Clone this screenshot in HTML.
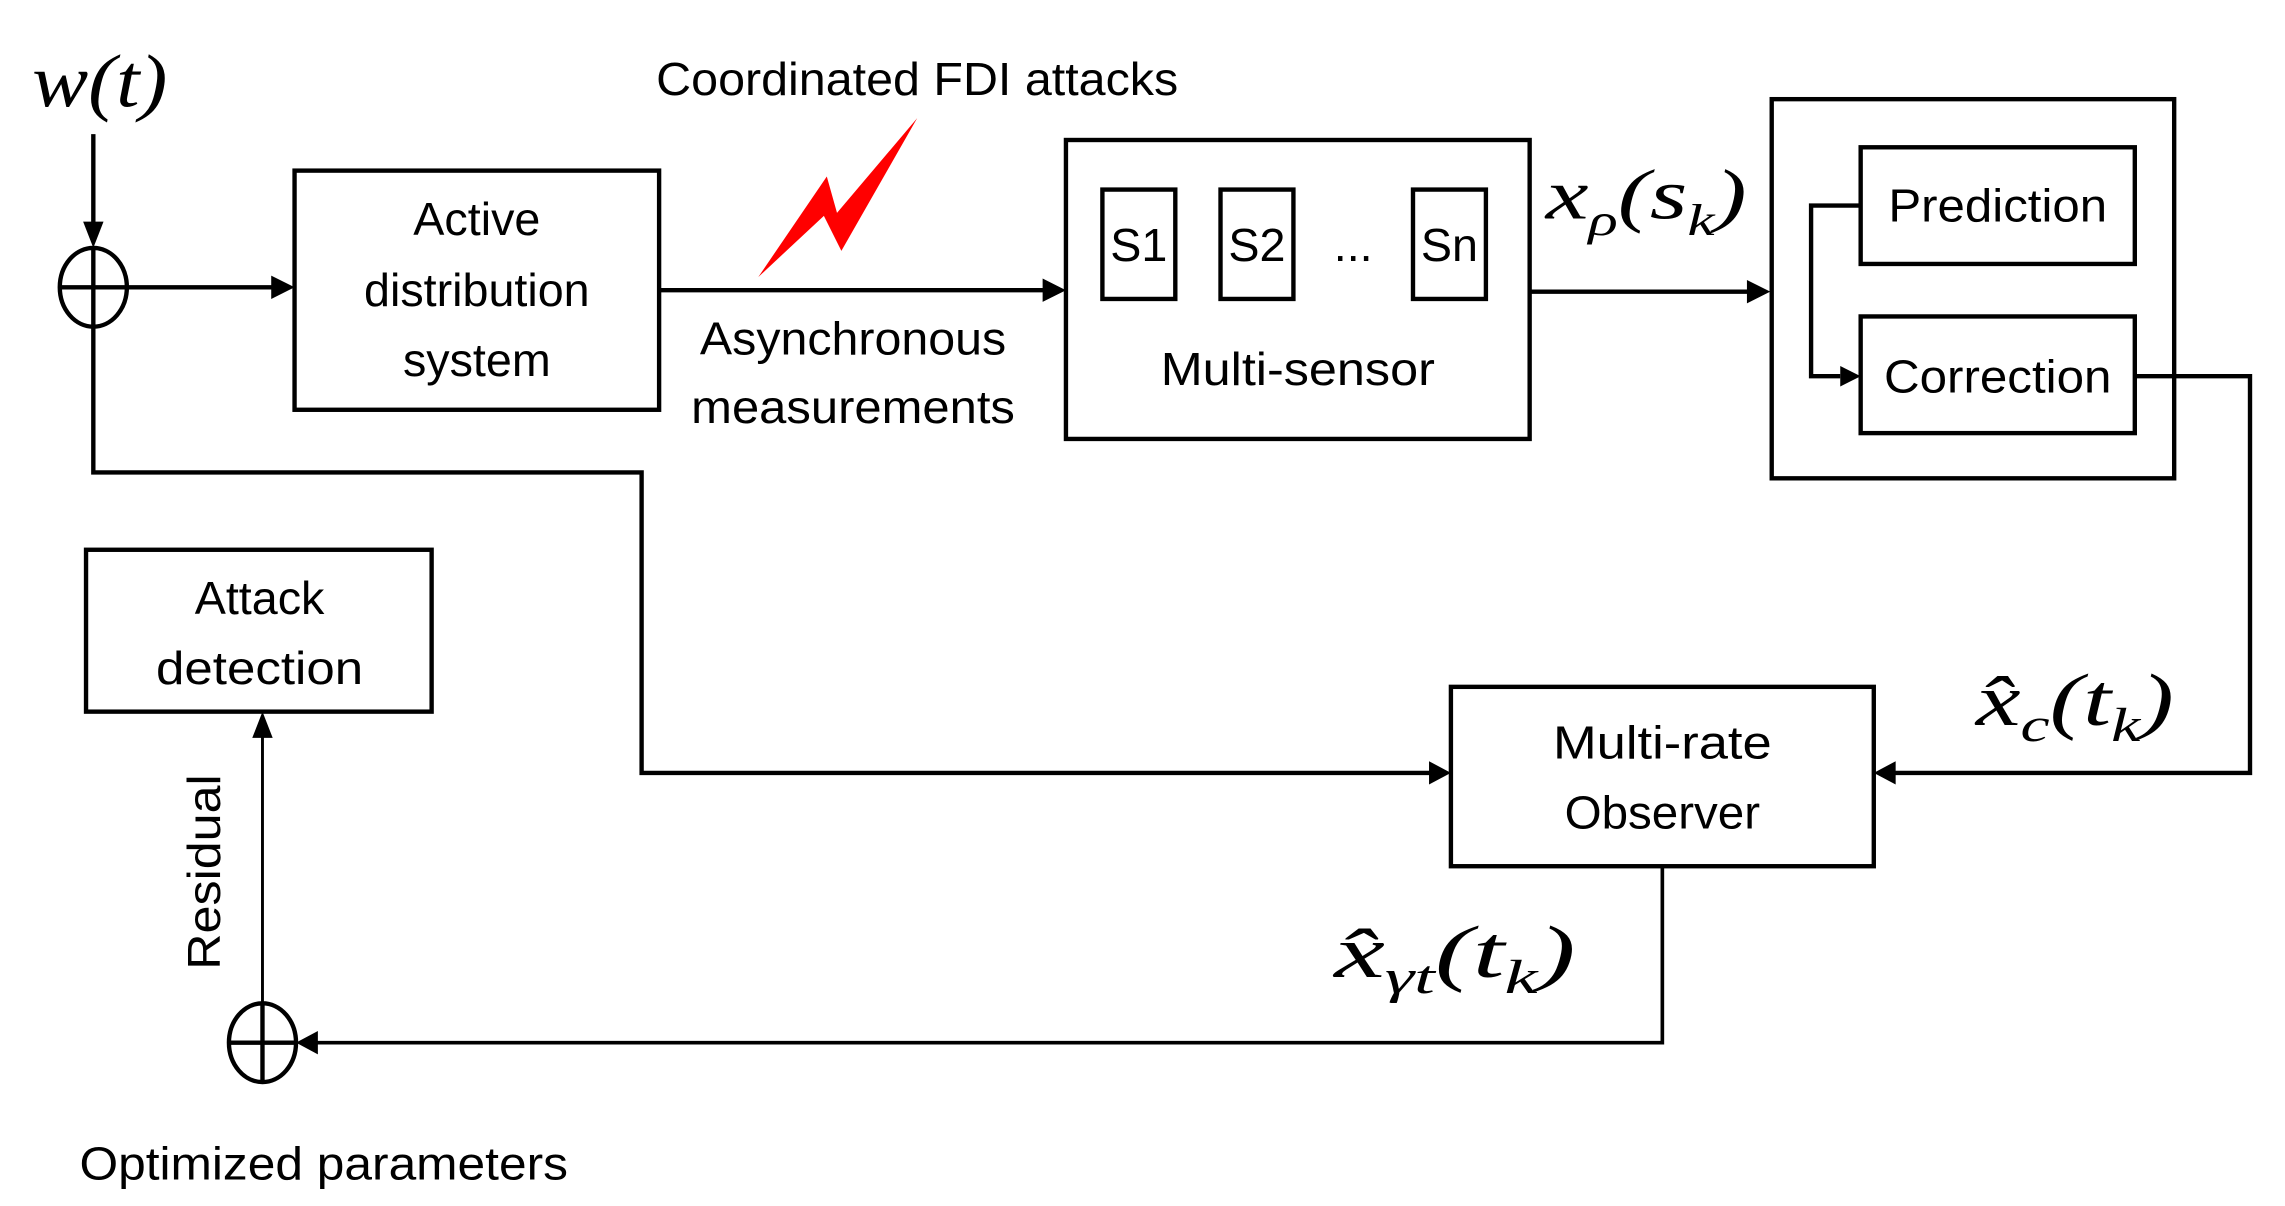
<!DOCTYPE html>
<html><head><meta charset="utf-8"><style>
html,body{margin:0;padding:0;background:#fff;}
svg{display:block;}
text{font-family:"Liberation Sans",sans-serif;fill:#000;}
.m{font-family:"Liberation Serif",serif;font-style:italic;}
.r{font-family:"Liberation Serif",serif;}
</style></head><body>
<svg width="2285" height="1206" viewBox="0 0 1567 827" preserveAspectRatio="none" xmlns="http://www.w3.org/2000/svg">
<g fill="none" stroke="#000" stroke-width="3">
<rect x="202" y="117" width="250" height="164"/>
<rect x="731" y="96" width="318" height="205"/>
<rect x="756" y="130" width="50" height="75"/>
<rect x="837" y="130" width="50" height="75"/>
<rect x="969" y="130" width="50" height="75"/>
<rect x="1215" y="68" width="276" height="260"/>
<rect x="1276" y="101" width="188" height="80"/>
<rect x="1276" y="217" width="188" height="80"/>
<rect x="995" y="471" width="290" height="123"/>
<rect x="59" y="377" width="237" height="111"/>
<ellipse cx="64" cy="197" rx="23" ry="27"/>
<line x1="41" y1="197" x2="87" y2="197"/>
<line x1="64" y1="170" x2="64" y2="224"/>
<ellipse cx="180" cy="715" rx="23" ry="27"/>
<line x1="157" y1="715" x2="203" y2="715"/>
<line x1="180" y1="688" x2="180" y2="742"/>
<line x1="64" y1="92" x2="64" y2="156"/>
<line x1="87" y1="197" x2="188" y2="197"/>
<line x1="452" y1="199" x2="716" y2="199"/>
<line x1="1049" y1="200" x2="1199" y2="200"/>
<polyline points="1276,141 1242,141 1242,258 1262,258"/>
<polyline points="1464,258 1543,258 1543,530 1299,530"/>
<polyline points="64,224 64,324 440,324 440,530 981,530"/>
<polyline points="1140,594 1140,715 217,715" stroke-width="2.5"/>
<line x1="180" y1="688" x2="180" y2="502" stroke-width="2"/>
</g>
<g fill="#000">
<polygon points="64,170 57,152 71,152"/>
<polygon points="202,197 186,189 186,205"/>
<polygon points="731,199 715,191 715,207"/>
<polygon points="1214,200 1198,192 1198,208"/>
<polygon points="1276,258 1262,251 1262,265"/>
<polygon points="1285,530 1300,522 1300,538"/>
<polygon points="995,530 980,522 980,538"/>
<polygon points="203,715 218,707 218,723"/>
<polygon points="180,488 173,506 187,506"/>
</g>
<polygon points="520,190 567,121 574,146 629,81 577,172 565,148" fill="#ff0000"/>
<g font-size="32" text-anchor="middle">
<text x="327" y="161">Active</text>
<text x="327" y="210">distribution</text>
<text x="327" y="258">system</text>
<text x="629" y="65" textLength="358" lengthAdjust="spacingAndGlyphs">Coordinated FDI attacks</text>
<text x="585" y="243" textLength="210" lengthAdjust="spacingAndGlyphs">Asynchronous</text>
<text x="585" y="290" textLength="222" lengthAdjust="spacingAndGlyphs">measurements</text>
<text x="781" y="179">S1</text>
<text x="862" y="179">S2</text>
<text x="928" y="179">...</text>
<text x="994" y="179">Sn</text>
<text x="890" y="264" textLength="188" lengthAdjust="spacingAndGlyphs">Multi-sensor</text>
<text x="1370" y="152" textLength="150" lengthAdjust="spacingAndGlyphs">Prediction</text>
<text x="1370" y="269" textLength="156" lengthAdjust="spacingAndGlyphs">Correction</text>
<text x="1140" y="520" textLength="150" lengthAdjust="spacingAndGlyphs">Multi-rate</text>
<text x="1140" y="568" textLength="134" lengthAdjust="spacingAndGlyphs">Observer</text>
<text x="178" y="421">Attack</text>
<text x="178" y="469" textLength="142" lengthAdjust="spacingAndGlyphs">detection</text>
<text x="222" y="809" textLength="335" lengthAdjust="spacingAndGlyphs">Optimized parameters</text>
<text x="0" y="0" transform="translate(151,598) rotate(-90)" textLength="134" lengthAdjust="spacingAndGlyphs">Residual</text>
</g>
<g transform="translate(22,73) scale(1.2,1.08)"><text x="0" y="0" font-size="48" class="m">w<tspan class="r">(</tspan>t<tspan class="r">)</tspan></text></g>
<g transform="translate(1060,150) scale(1.5,1.1)"><text x="0" y="0" font-size="44" class="m">x<tspan font-size="28" dy="10">ρ</tspan><tspan class="r" dy="-10">(</tspan>s<tspan font-size="28" dy="10">k</tspan><tspan class="r" dy="-10">)</tspan></text></g>
<g transform="translate(1355,497) scale(1.5,1.1)"><text x="0" y="0" font-size="46" class="m">x̂<tspan font-size="30" dy="10">c</tspan><tspan class="r" dy="-10">(</tspan>t<tspan font-size="30" dy="10">k</tspan><tspan class="r" dy="-10">)</tspan></text></g>
<g transform="translate(915,670) scale(1.7,1.1)"><text x="0" y="0" font-size="46" class="m">x̂<tspan font-size="30" dy="10">γt</tspan><tspan class="r" dy="-10">(</tspan>t<tspan font-size="30" dy="10">k</tspan><tspan class="r" dy="-10">)</tspan></text></g>
</svg>
</body></html>
